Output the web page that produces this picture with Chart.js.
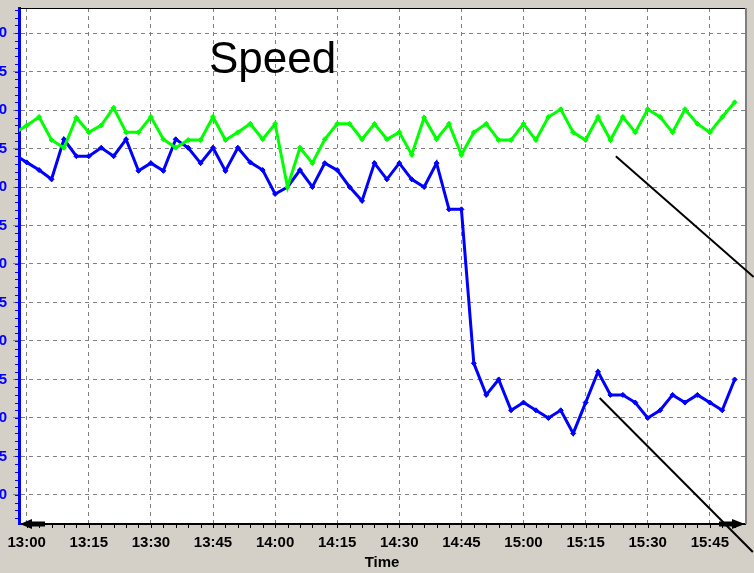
<!DOCTYPE html>
<html>
<head>
<meta charset="utf-8">
<script src="https://cdn.jsdelivr.net/npm/chart.js@4.4.0/dist/chart.umd.min.js"></script>
<style>
  html, body { margin: 0; padding: 0; background: #d4d0c8; overflow: hidden; width: 754px; height: 573px; }
  #wrap { position: absolute; left: -40px; top: 0; width: 794px; height: 573px; }
</style>
</head>
<body>
<div id="wrap"><canvas id="speed-chart"></canvas></div>
<script>
// minutes after 13:00
let minutes = [-3, 0, 3, 6, 9, 12, 15, 18, 21, 24, 27, 30, 33, 36, 39, 42, 45, 48, 51, 54,
  57, 60, 63, 66, 69, 72, 75, 78, 81, 84, 87, 90, 93, 96, 99, 102, 105, 108, 111, 114,
  117, 120, 123, 126, 129, 132, 135, 138, 141, 144, 147, 150, 153, 156, 159, 162, 165, 168, 171];

let greenSpeed = [57.0, 58.0, 59.1, 56.1, 55.1, 59.0, 57.1, 58.0, 60.3, 57.1, 57.1, 59.1, 56.2, 55.1,
  56.1, 56.1, 59.1, 56.1, 57.1, 58.2, 56.2, 58.2, 50.0, 55.1, 53.1, 56.2, 58.2, 58.2, 56.2,
  58.2, 56.2, 57.1, 54.2, 59.0, 56.2, 58.2, 54.2, 57.1, 58.2, 56.1, 56.1, 58.2, 56.1, 59.1,
  60.1, 57.1, 56.1, 59.1, 56.1, 59.1, 57.1, 60.1, 59.1, 57.1, 60.1, 58.2, 57.1, 59.1, 61.0];

let blueSpeed = [54.2, 53.2, 52.2, 51.0, 56.2, 54.0, 54.0, 55.1, 54.0, 56.2, 52.1, 53.1, 52.1, 56.2,
  55.1, 53.1, 55.1, 52.1, 55.1, 53.2, 52.2, 49.1, 50.0, 52.2, 50.0, 53.1, 52.2, 50.0, 48.2,
  53.1, 51.0, 53.1, 51.0, 50.0, 53.1, 47.1, 47.1, 27.1, 23.0, 25.0, 21.0, 22.0, 21.0, 20.0,
  21.0, 18.0, 22.0, 26.0, 23.0, 23.0, 22.0, 20.0, 21.0, 23.0, 22.0, 23.0, 22.0, 21.0, 25.0];

let timeLabels = ["13:00", "13:15", "13:30", "13:45", "14:00", "14:15", "14:30",
  "14:45", "15:00", "15:15", "15:30", "15:45"];

// pointer lines [from, to] as [minutes, speed]
let pointerStart = [[142.3, 54.0], [138.4, 22.6]];
let pointerEnd = [[175.6, 38.3], [175.4, 2.6]];

const labelFont = { family: "'Liberation Sans', Arial, sans-serif", size: 15, weight: "bold" };

const frame = {
  id: "frame",
  beforeDraw(chart) {
    const { ctx, chartArea: a } = chart;
    ctx.save();
    ctx.fillStyle = "#d4d0c8";
    ctx.fillRect(0, 0, chart.width, chart.height);
    ctx.fillStyle = "#ffffff";
    ctx.fillRect(a.left, a.top, a.right - a.left, a.bottom - a.top);
    ctx.restore();
  },
  afterDraw(chart) {
    const { ctx, chartArea: a, scales } = chart;
    ctx.save();

    // top and right edges of the plot
    ctx.strokeStyle = "#000";
    ctx.lineWidth = 1;
    ctx.beginPath();
    ctx.moveTo(a.left, a.top + 0.5);
    ctx.lineTo(a.right + 2, a.top + 0.5);
    ctx.stroke();
    ctx.strokeStyle = "#808080";
    ctx.lineWidth = 2;
    ctx.beginPath();
    ctx.moveTo(a.right + 1, a.top);
    ctx.lineTo(a.right + 1, a.bottom);
    ctx.stroke();

    // minor ticks
    ctx.lineWidth = 1;
    ctx.strokeStyle = "#0000ff";
    for (let v = 7; v <= 73; v++) {
      let y = Math.round(scales.y.getPixelForValue(v)) + 0.5;
      ctx.beginPath();
      ctx.moveTo(a.left - 4, y);
      ctx.lineTo(a.left - 1, y);
      ctx.stroke();
    }
    ctx.strokeStyle = "#000";
    for (let m = 0; m <= 171; m += 3) {
      let x = Math.round(scales.x.getPixelForValue(m)) + 0.5;
      ctx.beginPath();
      ctx.moveTo(x, a.bottom + 1);
      ctx.lineTo(x, a.bottom + 4);
      ctx.stroke();
    }

    // arrows on the time axis
    ctx.fillStyle = "#000";
    ctx.fillRect(a.left + 12, a.bottom - 2.5, 14, 5);
    ctx.beginPath();
    ctx.moveTo(a.left + 1, a.bottom);
    ctx.lineTo(a.left + 13, a.bottom - 5);
    ctx.lineTo(a.left + 13, a.bottom + 5);
    ctx.closePath();
    ctx.fill();
    ctx.fillRect(a.right - 26, a.bottom - 2.5, 14, 5);
    ctx.beginPath();
    ctx.moveTo(a.right, a.bottom);
    ctx.lineTo(a.right - 13, a.bottom - 5);
    ctx.lineTo(a.right - 13, a.bottom + 5);
    ctx.closePath();
    ctx.fill();

    // pointer lines
    ctx.strokeStyle = "#000";
    ctx.lineWidth = 2;
    pointerStart.forEach((p, i) => {
      ctx.beginPath();
      ctx.moveTo(scales.x.getPixelForValue(p[0]), scales.y.getPixelForValue(p[1]));
      ctx.lineTo(scales.x.getPixelForValue(pointerEnd[i][0]), scales.y.getPixelForValue(pointerEnd[i][1]));
      ctx.stroke();
    });

    // title inside the plot
    ctx.fillStyle = "#000";
    ctx.font = "44px 'Liberation Sans', Arial, sans-serif";
    ctx.textAlign = "left";
    ctx.textBaseline = "alphabetic";
    ctx.fillText("Speed", a.left + 190, 73);

    ctx.restore();
  },
};

let speedChart = new Chart("speed-chart", {
  type: "line",
  data: {
    datasets: [
      {
        label: "Green",
        data: minutes.map((m, i) => ({ x: m, y: greenSpeed[i] })),
        borderColor: "#00ff00",
        backgroundColor: "#00ff00",
        borderWidth: 3,
        pointStyle: "rectRot",
        pointRadius: 2.5,
        pointBorderWidth: 1,
        tension: 0,
        clip: 0,
      },
      {
        label: "Blue",
        data: minutes.map((m, i) => ({ x: m, y: blueSpeed[i] })),
        borderColor: "#0000ff",
        backgroundColor: "#0000ff",
        borderWidth: 3,
        pointStyle: "rectRot",
        pointRadius: 2.5,
        pointBorderWidth: 1,
        tension: 0,
        clip: 0,
      },
    ],
  },
  options: {
    responsive: true,
    maintainAspectRatio: false,
    animation: false,
    layout: { padding: { left: 0, right: 9, top: 8, bottom: 0 } },
    plugins: {
      legend: { display: false },
      title: { display: false },
      tooltip: { enabled: false },
    },
    scales: {
      x: {
        type: "linear",
        min: -1.86,
        max: 173.5,
        afterFit: (s) => {
          s.height = 49;
          s.paddingLeft = 0;
          s.paddingRight = 0;
        },
        border: { display: true, color: "#000", width: 2, dash: [4, 4] },
        grid: { color: "#808080", drawTicks: false },
        ticks: {
          stepSize: 15,
          includeBounds: false,
          autoSkip: false,
          maxRotation: 0,
          padding: 10,
          color: "#000",
          font: labelFont,
          callback: (v) => timeLabels[Math.round(v / 15)],
        },
        title: {
          display: true,
          text: "Time",
          color: "#000",
          font: labelFont,
          padding: { top: 0, bottom: 1 },
        },
      },
      y: {
        type: "linear",
        min: 6.23,
        max: 73.25,
        afterFit: (s) => {
          s.width = 59;
          s.paddingTop = 0;
          s.paddingBottom = 0;
        },
        border: { display: true, color: "#0000ff", width: 3, dash: [4, 4] },
        grid: { color: "#808080", tickColor: "#808080", tickLength: 6 },
        ticks: {
          stepSize: 5,
          includeBounds: false,
          padding: 6,
          color: "#0000ff",
          font: labelFont,
        },
      },
    },
  },
  plugins: [frame],
});
</script>
</body>
</html>
